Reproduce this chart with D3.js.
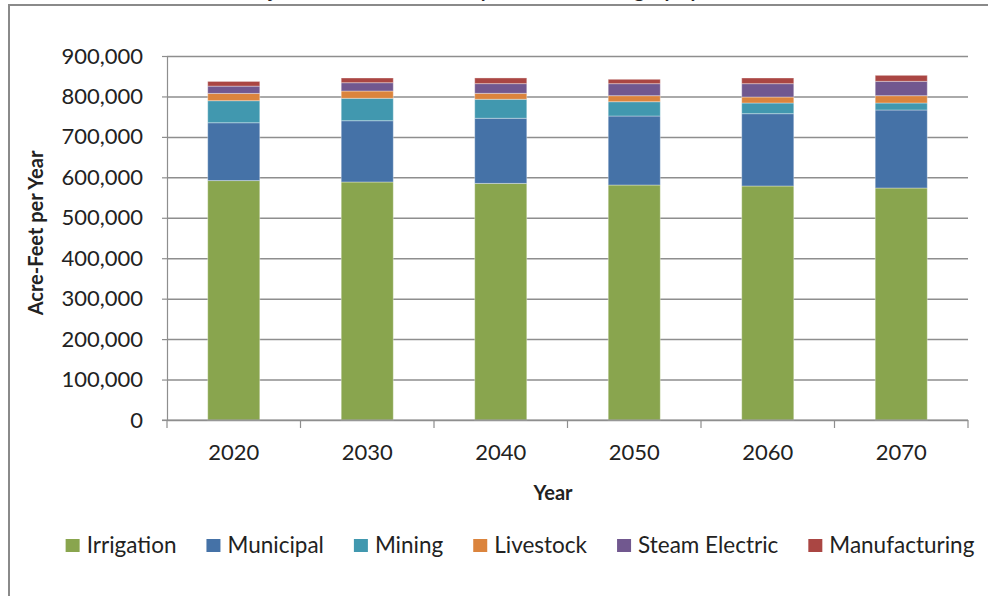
<!DOCTYPE html>
<html>
<head>
    <title></title>
    <meta charset="utf-8" />
    <script src="https://d3js.org/d3.v7.min.js"></script>
    <style>
        body { margin: 0; background: #fff; }
        svg text { font-family: Lato, "Open Sans", sans-serif; fill: #222; }
        .grid line { stroke: #8e8e8e; stroke-width: 1.5; }
        .grid path { display: none; }
        .axis path, .axis line { stroke: #8e8e8e; stroke-width: 1.2; }
    </style>
</head>
<body>
    <script>
        var years = ["2020", "2030", "2040", "2050", "2060", "2070"];
        var categories = ["Irrigation", "Municipal", "Mining", "Livestock", "Steam Electric", "Manufacturing"];
        var colors = ["#89a54e", "#4572a7", "#4198af", "#db843d", "#71588f", "#aa4643"];

        var irrigation    = [592000, 588500, 585000, 581000, 578600, 573600];
        var municipal     = [143000, 151500, 161000, 170600, 178800, 192900];
        var mining        = [54500, 55400, 47000, 35400, 26400, 17300];
        var livestock     = [18000, 18000, 14700, 14900, 14800, 18100];
        var steamElectric = [18000, 20600, 24000, 29700, 33000, 35500];
        var manufacturing = [11600, 11600, 14000, 10800, 14000, 14800];

        var yTicks = [0, 100000, 200000, 300000, 400000, 500000, 600000, 700000, 800000, 900000];

        var width = 988,
            height = 596,
            plotLeft = 167, plotRight = 968, plotTop = 56, plotBottom = 420;

        var series = [irrigation, municipal, mining, livestock, steamElectric, manufacturing];

        // rows for d3.stack
        var rows = years.map(function (yr, i) {
            var r = { year: yr };
            categories.forEach(function (c, k) { r[c] = series[k][i]; });
            return r;
        });
        var stacked = d3.stack().keys(categories)(rows);

        var svg = d3.select("body").append("svg")
            .attr("width", width)
            .attr("height", height);

        // outer frame (extends past the picture)
        svg.append("rect")
            .attr("x", 9).attr("y", 5)
            .attr("width", width + 20).attr("height", height + 20)
            .attr("fill", "none")
            .attr("stroke", "#8a8a8a")
            .attr("stroke-width", 2);

        // title, cut off at the top
        svg.append("text")
            .attr("x", 505).attr("y", -3)
            .attr("text-anchor", "middle")
            .attr("font-size", 20)
            .attr("font-weight", "bold")
            .text("Projected Water Demand by Water Use Category by Decade");

        var x = d3.scaleBand().domain(years).range([plotLeft, plotRight])
            .paddingInner(0.61).paddingOuter(0.305);
        var y = d3.scaleLinear().domain([0, 900000]).range([plotBottom, plotTop]);

        // gridlines
        svg.append("g").attr("class", "grid")
            .attr("transform", "translate(" + plotLeft + ",0)")
            .call(d3.axisLeft(y).tickValues(yTicks).tickSize(-(plotRight - plotLeft)).tickFormat(""));

        // bars
        svg.append("g").selectAll("g")
            .data(stacked)
            .enter().append("g")
            .attr("fill", function (d, i) { return colors[i]; })
            .selectAll("rect")
            .data(function (d) { return d; })
            .enter().append("rect")
            .attr("x", function (d) { return x(d.data.year); })
            .attr("width", x.bandwidth())
            .attr("y", function (d) { return y(d[1]); })
            .attr("height", function (d) { return y(d[0]) - y(d[1]); })
            .attr("stroke", "rgba(255,255,255,0.35)")
            .attr("stroke-width", 1);

        // y axis
        var yAxis = svg.append("g").attr("class", "axis")
            .attr("transform", "translate(" + plotLeft + ",0)")
            .call(d3.axisLeft(y).tickValues(yTicks).tickSize(5).tickSizeOuter(0)
                .tickPadding(19).tickFormat(d3.format(",")));
        yAxis.selectAll("text").attr("font-size", 22).attr("fill", "#222");

        // x axis line + boundary ticks
        var xAxis = svg.append("g").attr("class", "axis");
        xAxis.append("line")
            .attr("x1", plotLeft - 5).attr("x2", plotRight)
            .attr("y1", plotBottom).attr("y2", plotBottom);
        var bounds = d3.range(years.length + 1).map(function (i) { return plotLeft + i * x.step(); });
        xAxis.selectAll(".bt").data(bounds).enter().append("line")
            .attr("class", "bt")
            .attr("x1", function (d) { return d; }).attr("x2", function (d) { return d; })
            .attr("y1", plotBottom).attr("y2", plotBottom + 8);
        xAxis.selectAll(".lbl").data(years).enter().append("text")
            .attr("class", "lbl")
            .attr("x", function (d) { return x(d) + x.bandwidth() / 2; })
            .attr("y", 460)
            .attr("text-anchor", "middle")
            .attr("font-size", 22)
            .text(function (d) { return d; });

        // axis titles
        svg.append("text")
            .attr("transform", "translate(43,233) rotate(-90)")
            .attr("text-anchor", "middle")
            .attr("font-size", 20)
            .attr("font-weight", "bold")
            .attr("fill", "#000")
            .text("Acre-Feet per Year");

        svg.append("text")
            .attr("x", 553).attr("y", 500)
            .attr("text-anchor", "middle")
            .attr("font-size", 20)
            .attr("font-weight", "bold")
            .attr("fill", "#000")
            .text("Year");

        // legend, laid out from measured text widths
        var legend = svg.append("g");
        var items = legend.selectAll("g").data(categories).enter().append("g");
        items.append("rect")
            .attr("width", 14).attr("height", 13)
            .attr("y", 539)
            .attr("fill", function (d, i) { return colors[i]; });
        items.append("text")
            .attr("x", 21).attr("y", 553)
            .attr("font-size", 22.5)
            .text(function (d) { return d; });
        var pos = 0, offsets = [];
        items.each(function () {
            offsets.push(pos);
            pos += 21 + this.querySelector("text").getComputedTextLength() + 30;
        });
        var total = pos - 30;
        var start = 520 - total / 2;
        items.attr("transform", function (d, i) { return "translate(" + (start + offsets[i]) + ",0)"; });
    </script>
</body>
</html>
